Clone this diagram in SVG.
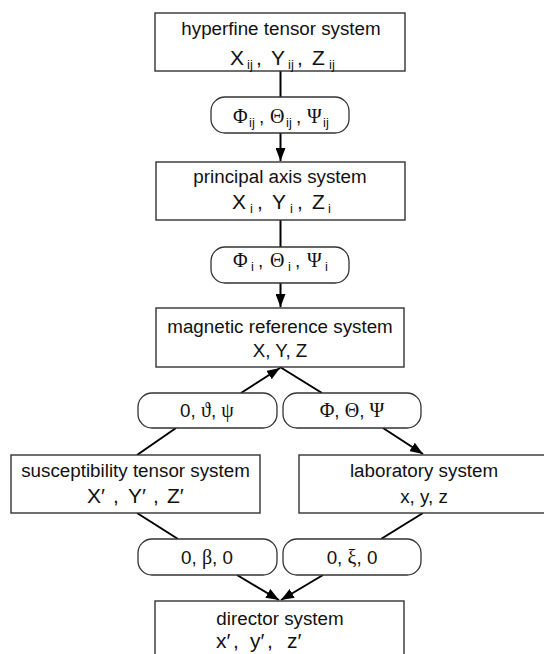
<svg xmlns="http://www.w3.org/2000/svg" width="544" height="654" viewBox="0 0 544 654">
<style>
.box{fill:#fff;stroke:#333;stroke-width:1.4}
.pill{fill:#fff;stroke:#333;stroke-width:1.3}
.t{font-family:"Liberation Sans",Arial,sans-serif;font-size:18.8px;fill:#111;text-anchor:middle;white-space:pre}
.l2{font-size:21px;text-anchor:start}
.g{font-family:"Liberation Serif","Times New Roman",serif;font-size:20px}
.s{font-size:13px}
.c{stroke:#000;stroke-width:2;fill:none}
</style>
<defs>
<marker id="ah" markerUnits="userSpaceOnUse" markerWidth="14" markerHeight="10" refX="13" refY="5" orient="auto">
<path d="M0,0 L13,5 L0,10 Z" fill="#000"/>
</marker>
</defs>
<rect width="544" height="654" fill="#fff"/>
<g id="connectors">
<line class="c" x1="280.5" y1="71" x2="280.5" y2="97"/>
<line class="c" x1="280.5" y1="133" x2="280.5" y2="161" marker-end="url(#ah)"/>
<line class="c" x1="280.5" y1="220" x2="280.5" y2="247"/>
<line class="c" x1="280.5" y1="283" x2="280.5" y2="307" marker-end="url(#ah)"/>
<line class="c" x1="241" y1="393" x2="280" y2="368" marker-end="url(#ah)"/>
<line class="c" x1="280" y1="367" x2="322" y2="393"/>
<line class="c" x1="176" y1="428" x2="137" y2="455"/>
<line class="c" x1="383" y1="428" x2="423" y2="454" marker-end="url(#ah)"/>
<line class="c" x1="137" y1="513" x2="178" y2="539"/>
<line class="c" x1="423" y1="513" x2="381" y2="539"/>
<line class="c" x1="237" y1="575" x2="279" y2="600" marker-end="url(#ah)"/>
<line class="c" x1="323" y1="575" x2="281" y2="600" marker-end="url(#ah)"/>
</g>
<g id="hyperfine">
<rect class="box" x="155" y="13" width="250" height="58"/>
<text class="t" x="281" y="35">hyperfine tensor system</text>
<text class="t l2" y="65"><tspan x="230">X</tspan><tspan class="s" x="247" dy="4">ij</tspan><tspan x="256" dy="-4">,</tspan><tspan x="271">Y</tspan><tspan class="s" x="288" dy="4">ij</tspan><tspan x="297" dy="-4">,</tspan><tspan x="312">Z</tspan><tspan class="s" x="329" dy="4">ij</tspan></text>
</g>
<g id="pill1">
<rect class="pill" x="211" y="97" width="138" height="36" rx="14"/>
<text class="t" y="123" text-anchor="start" style="text-anchor:start"><tspan class="g" x="233">Φ</tspan><tspan class="s" x="249" dy="4">ij</tspan><tspan x="259" dy="-4">,</tspan><tspan class="g" x="270">Θ</tspan><tspan class="s" x="286" dy="4">ij</tspan><tspan x="296" dy="-4">,</tspan><tspan class="g" x="307">Ψ</tspan><tspan class="s" x="323" dy="4">ij</tspan></text>
</g>
<g id="principal">
<rect class="box" x="156" y="162" width="249" height="58"/>
<text class="t" x="280" y="183">principal axis system</text>
<text class="t l2" y="209"><tspan x="232">X</tspan><tspan class="s" x="250" dy="4">i</tspan><tspan x="257" dy="-4">,</tspan><tspan x="272">Y</tspan><tspan class="s" x="290" dy="4">i</tspan><tspan x="297" dy="-4">,</tspan><tspan x="312">Z</tspan><tspan class="s" x="328" dy="4">i</tspan></text>
</g>
<g id="pill2">
<rect class="pill" x="211" y="247" width="138" height="36" rx="14"/>
<text class="t" y="267" style="text-anchor:start"><tspan class="g" x="233">Φ</tspan><tspan class="s" x="251" dy="4">i</tspan><tspan x="258" dy="-4">,</tspan><tspan class="g" x="270">Θ</tspan><tspan class="s" x="288" dy="4">i</tspan><tspan x="295" dy="-4">,</tspan><tspan class="g" x="307">Ψ</tspan><tspan class="s" x="325" dy="4">i</tspan></text>
</g>
<g id="magnetic">
<rect class="box" x="156" y="308" width="248" height="59"/>
<text class="t" x="280" y="333">magnetic reference system</text>
<text class="t" x="280" y="357">X, Y, Z</text>
</g>
<g id="pill3">
<rect class="pill" x="138" y="393" width="139" height="35" rx="14"/>
<text class="t" x="207" y="417">0, <tspan class="g">ϑ</tspan>, <tspan class="g">ψ</tspan></text>
</g>
<g id="pill4">
<rect class="pill" x="283" y="393" width="138" height="35" rx="14"/>
<text class="t" x="352" y="417"><tspan class="g">Φ</tspan>, <tspan class="g">Θ</tspan>, <tspan class="g">Ψ</tspan></text>
</g>
<g id="susceptibility">
<rect class="box" x="11" y="455" width="249" height="58"/>
<text class="t" x="135.5" y="477">susceptibility tensor system</text>
<text class="t l2" y="503"><tspan x="87">X′</tspan><tspan x="113">,</tspan><tspan x="128">Y′</tspan><tspan x="153">,</tspan><tspan x="167">Z′</tspan></text>
</g>
<g id="laboratory">
<rect class="box" x="299" y="455" width="251" height="58"/>
<text class="t" x="424" y="477">laboratory system</text>
<text class="t" x="424" y="503">x, y, z</text>
</g>
<g id="pill5">
<rect class="pill" x="138" y="539" width="139" height="36" rx="14"/>
<text class="t" x="207" y="564">0, <tspan class="g">β</tspan>, 0</text>
</g>
<g id="pill6">
<rect class="pill" x="283" y="539" width="138" height="36" rx="14"/>
<text class="t" x="352" y="564">0, <tspan class="g">ξ</tspan>, 0</text>
</g>
<g id="director">
<rect class="box" x="155" y="601" width="249" height="60"/>
<text class="t" x="280" y="625">director system</text>
<text class="t l2" y="648"><tspan x="216">x′</tspan><tspan x="233">,</tspan><tspan x="250">y′</tspan><tspan x="267">,</tspan><tspan x="287">z′</tspan></text>
</g>
</svg>
